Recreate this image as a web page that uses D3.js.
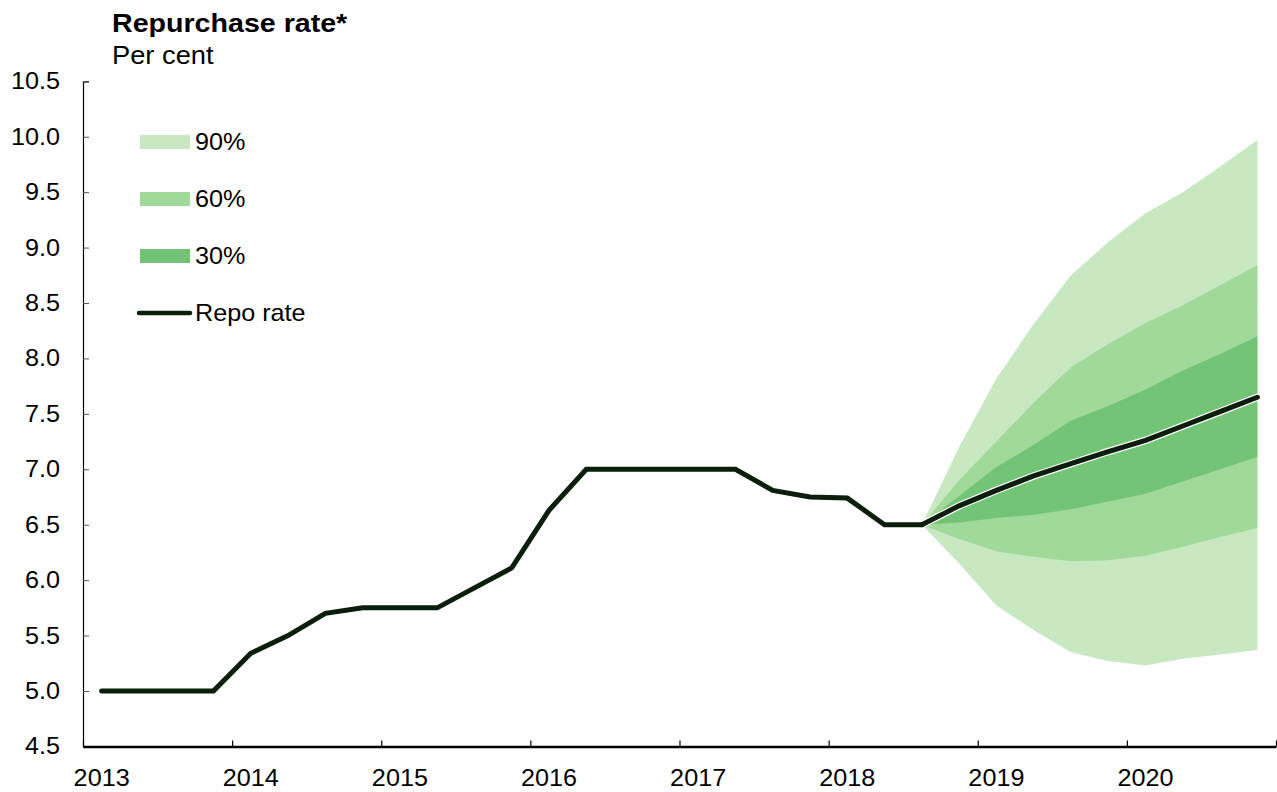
<!DOCTYPE html>
<html>
<head>
<meta charset="utf-8">
<script src="https://cdn.jsdelivr.net/npm/d3@7"></script>
<style>
  html, body { margin: 0; padding: 0; background: #ffffff; }
  svg { display: block; }
  text { font-family: "Liberation Sans", Arial, sans-serif; fill: #000; }
</style>
</head>
<body>
<svg id="chart" width="1277" height="792"></svg>
<script>
// ---------- DATA ----------
const title = "Repurchase rate*";
const subtitle = "Per cent";
const yearTicks = [2013, 2014, 2015, 2016, 2017, 2018, 2019, 2020, 2021];
const yearLabels = ["2013", "2014", "2015", "2016", "2017", "2018", "2019", "2020"];
const yTickValues = [4.5, 5.0, 5.5, 6.0, 6.5, 7.0, 7.5, 8.0, 8.5, 9.0, 9.5, 10.0, 10.5];

// Quarterly history 2013Q1 .. 2018Q3
const histQuarters = ["2013Q1","2013Q2","2013Q3","2013Q4","2014Q1","2014Q2","2014Q3","2014Q4",
  "2015Q1","2015Q2","2015Q3","2015Q4","2016Q1","2016Q2","2016Q3","2016Q4",
  "2017Q1","2017Q2","2017Q3","2017Q4","2018Q1","2018Q2","2018Q3"];
const repoHistory = [5.0, 5.0, 5.0, 5.0, 5.34, 5.5, 5.7, 5.75,
  5.75, 5.75, 5.93, 6.11, 6.63, 7.0, 7.0, 7.0,
  7.0, 7.0, 6.81, 6.75, 6.74, 6.5, 6.5];

// Forecast 2018Q3 .. 2020Q4
const fcQuarters = ["2018Q3","2018Q4","2019Q1","2019Q2","2019Q3","2019Q4","2020Q1","2020Q2","2020Q3","2020Q4"];
const repoForecast = [6.5, 6.67, 6.81, 6.94, 7.05, 7.16, 7.26, 7.39, 7.52, 7.65];
const lower90 = [6.5, 6.15, 5.77, 5.55, 5.35, 5.27, 5.23, 5.29, 5.33, 5.37];
const lower60 = [6.5, 6.37, 6.26, 6.21, 6.17, 6.18, 6.22, 6.30, 6.39, 6.47];
const lower30 = [6.5, 6.52, 6.56, 6.59, 6.64, 6.71, 6.78, 6.89, 7.00, 7.11];
const upper30 = [6.5, 6.76, 7.02, 7.22, 7.44, 7.57, 7.72, 7.89, 8.04, 8.20];
const upper60 = [6.5, 6.90, 7.25, 7.60, 7.92, 8.13, 8.32, 8.48, 8.66, 8.84];
const upper90 = [6.5, 7.20, 7.82, 8.31, 8.75, 9.05, 9.31, 9.50, 9.73, 9.97];

const bandLabels = ["90%", "60%", "30%"];
const lineLabel = "Repo rate";

// ---------- STYLE ----------
const colors = { b90: "#c7e8c0", b60: "#a1d99b", b30: "#73c476", line: "#0b1d0b" };
const SX = 1.05;           // horizontal stretch of the glyphs
const fs = 24;             // tick & legend font size

// ---------- SCALES ----------
const svg = d3.select("#chart");
const x = d3.scaleLinear().domain([2013, 2021]).range([83, 1276]);
const y = d3.scaleLinear().domain([4.5, 10.5]).range([746.4, 81.3]);
const qToNum = q => +q.slice(0, 4) + (+q.slice(5) - 0.5) / 4;

function stretchedText(parent, tx, ty, str, anchor, size, weight, sx) {
  const g = parent.append("g").attr("transform", `translate(${tx},${ty}) scale(${sx || SX},1)`);
  g.append("text").attr("text-anchor", anchor).attr("font-size", size)
    .attr("font-weight", weight || "normal").text(str);
  return g;
}

// ---------- FAN ----------
const fc = fcQuarters.map((q, i) => ({ t: qToNum(q), i }));
function band(lo, hi, fill) {
  const area = d3.area().x(d => x(d.t)).y0(d => y(lo[d.i])).y1(d => y(hi[d.i]));
  svg.append("path").datum(fc).attr("d", area).attr("fill", fill);
}
band(lower90, upper90, colors.b90);
band(lower60, upper60, colors.b60);
band(lower30, upper30, colors.b30);

// ---------- LINES ----------
const histData = histQuarters.map((q, i) => ({ t: qToNum(q), v: repoHistory[i] }));
const fcData = fcQuarters.map((q, i) => ({ t: qToNum(q), v: repoForecast[i] }));
const line = d3.line().x(d => x(d.t)).y(d => y(d.v));

svg.append("path").datum(fcData).attr("d", line).attr("fill", "none")
  .attr("stroke", "#fff").attr("stroke-width", 7.5).attr("stroke-linecap", "round");
svg.append("path").datum(fcData).attr("d", line).attr("fill", "none")
  .attr("stroke", colors.line).attr("stroke-width", 5).attr("stroke-linecap", "round");
svg.append("path").datum(histData).attr("d", line).attr("fill", "none")
  .attr("stroke", colors.line).attr("stroke-width", 5).attr("stroke-linecap", "round")
  .attr("stroke-linejoin", "miter");

// ---------- AXES ----------
const yAxis = d3.axisRight(y).tickValues(yTickValues).tickSize(6).tickFormat("");
const gy = svg.append("g").attr("transform", `translate(${x(2013)},0)`).call(yAxis);
gy.select(".domain").attr("stroke", "#000").attr("stroke-width", 1.2);
gy.selectAll(".tick line").attr("stroke", "#555").attr("stroke-width", 1);

yTickValues.forEach(v => {
  stretchedText(svg, 60, y(v) + 8, d3.format(".1f")(v), "end", fs);
});

const xAxis = d3.axisTop(x).tickValues(yearTicks).tickSize(6).tickSizeOuter(0).tickFormat("");
const gx = svg.append("g").attr("transform", `translate(0,${y(4.5)})`).call(xAxis);
gx.select(".domain").attr("stroke", "#000").attr("stroke-width", 2.5);
gx.selectAll(".tick line").attr("stroke", "#000").attr("stroke-width", 1.2);

yearLabels.forEach(lbl => {
  stretchedText(svg, x(+lbl + 0.125), 786, lbl, "middle", fs);
});

// ---------- TITLE ----------
stretchedText(svg, 112, 32, title, "start", 26, "bold", 1.1);
stretchedText(svg, 112, 64, subtitle, "start", 26, "normal", 1.05);

// ---------- LEGEND ----------
const legendFills = [colors.b90, colors.b60, colors.b30];
const legendY = [142, 199, 256];
bandLabels.forEach((lbl, i) => {
  svg.append("rect").attr("x", 140).attr("y", legendY[i] - 7).attr("width", 50).attr("height", 14)
    .attr("fill", legendFills[i]);
  stretchedText(svg, 195, legendY[i] + 8, lbl, "start", fs);
});
svg.append("line").attr("x1", 139).attr("x2", 190).attr("y1", 313).attr("y2", 313)
  .attr("stroke", colors.line).attr("stroke-width", 4.5).attr("stroke-linecap", "round");
stretchedText(svg, 195, 321, lineLabel, "start", fs);
</script>
</body>
</html>
